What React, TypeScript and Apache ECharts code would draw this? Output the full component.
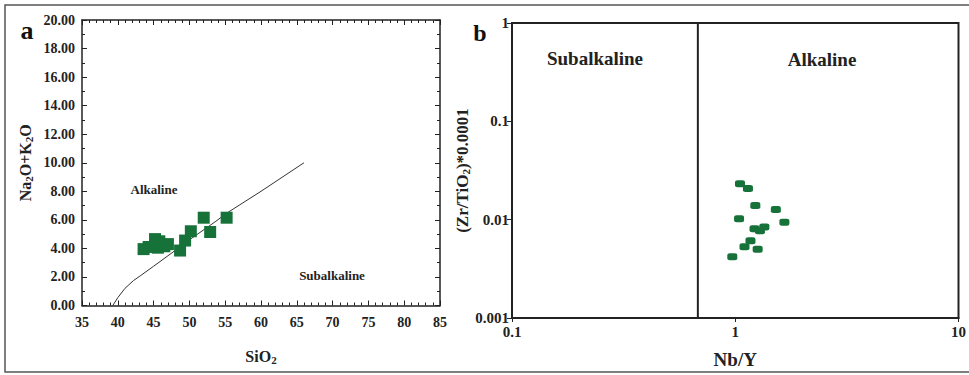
import React, { useEffect, useRef } from "react";
import * as echarts from "echarts";

// Panel a: TAS (SiO2 vs Na2O+K2O)
const sio2 = [43.6, 44.3, 45.2, 45.8, 45.6, 46.5, 47.0, 48.7, 49.4, 50.2, 52.0, 52.9, 55.2];
const alkali = [3.95, 4.1, 4.65, 4.5, 4.05, 4.15, 4.3, 3.85, 4.55, 5.2, 6.15, 5.15, 6.15];
const boundaryX = [39.3, 40.0, 41.0, 42.2, 43.2, 45.0, 48.0, 50.0, 53.7, 55.0, 60.0, 66.0];
const boundaryY = [0.0, 0.55, 1.2, 1.75, 2.1, 2.75, 3.85, 4.6, 5.9, 6.4, 8.0, 10.0];
const aXTicks = [35, 40, 45, 50, 55, 60, 65, 70, 75, 80, 85];

// Panel b: Nb/Y vs Zr/TiO2*0.0001
const nbY = [1.05, 1.14, 1.23, 1.52, 1.04, 1.66, 1.22, 1.29, 1.35, 1.17, 1.1, 1.26, 0.97];
const zrTi = [0.0232, 0.0207, 0.0139, 0.0127, 0.0102, 0.0094, 0.0081, 0.0077, 0.0084, 0.0061, 0.0053, 0.005, 0.0042];
const nbYBoundary = 0.68;

const SERIF = "'Liberation Serif', 'Times New Roman', serif";
const GREEN = "#17723a";
const AX = "#222";

const subRich = {
  s: { fontSize: 11, fontWeight: "bold", fontFamily: SERIF, color: AX, padding: [7, 0, 0, 0] },
};

function txt(text: string, x: number, y: number, size: number, fill = AX) {
  return {
    type: "text", x, y, silent: true,
    style: { text, fontFamily: SERIF, fontWeight: "bold", fontSize: size, fill, align: "center", verticalAlign: "middle" },
  };
}

export default function App() {
  const ref = useRef<HTMLDivElement>(null);
  useEffect(() => {
    if (!ref.current) return;
    const chart = echarts.init(ref.current, null, { renderer: "svg" });
    const tickLbl = { fontFamily: SERIF, fontWeight: "bold", color: AX };
    const option: any = {
      animation: false,
      backgroundColor: "#fff",
      textStyle: { fontFamily: SERIF },
      grid: [
        { left: 82, top: 20, width: 358, height: 285.5, show: false },
        { left: 512, top: 23, width: 447, height: 295, show: true, borderColor: AX, borderWidth: 2, backgroundColor: "transparent" },
      ],
      xAxis: [
        {
          gridIndex: 0, type: "value", min: 35, max: 85, interval: 5, position: "bottom",
          name: "SiO{s|2}", nameLocation: "middle", nameGap: 42,
          nameTextStyle: { fontFamily: SERIF, fontWeight: "bold", fontSize: 16, color: AX, rich: subRich },
          axisLine: { show: true, onZero: false, lineStyle: { color: AX, width: 1.5 } },
          axisTick: { show: true, inside: true, length: 5, lineStyle: { color: AX } },
          minorTick: { show: true, splitNumber: 5, length: 3, lineStyle: { color: AX } },
          splitLine: { show: false },
          axisLabel: { ...tickLbl, fontSize: 14, margin: 10, formatter: (v: number) => (aXTicks.includes(v) ? String(v) : "") },
        },
        {
          gridIndex: 0, type: "value", min: 35, max: 85, interval: 5, position: "top",
          axisLine: { show: true, onZero: false, lineStyle: { color: AX, width: 1.5 } },
          axisTick: { show: true, inside: true, length: 5, lineStyle: { color: AX } },
          minorTick: { show: true, splitNumber: 5, length: 3, lineStyle: { color: AX } },
          splitLine: { show: false }, axisLabel: { show: false },
        },
        {
          gridIndex: 1, type: "log", logBase: 10, min: 0.1, max: 10,
          name: "Nb/Y", nameLocation: "middle", nameGap: 32,
          nameTextStyle: { fontFamily: SERIF, fontWeight: "bold", fontSize: 19, color: AX },
          axisLine: { show: true, onZero: false, lineStyle: { color: AX, width: 2 } },
          axisTick: { show: true, length: 4, lineStyle: { color: AX } },
          minorTick: { show: false }, splitLine: { show: false },
          axisLabel: { ...tickLbl, fontSize: 15, margin: 6, formatter: (v: number) => String(+v.toPrecision(3)) },
        },
      ],
      yAxis: [
        {
          gridIndex: 0, type: "value", min: 0, max: 20, interval: 2, position: "left",
          name: "Na{s|2}O+K{s|2}O", nameLocation: "middle", nameGap: 48, nameRotate: 90,
          nameTextStyle: { fontFamily: SERIF, fontWeight: "bold", fontSize: 16, color: AX, rich: subRich },
          axisLine: { show: true, onZero: false, lineStyle: { color: AX, width: 1.5 } },
          axisTick: { show: true, inside: true, length: 5, lineStyle: { color: AX } },
          minorTick: { show: true, splitNumber: 2, length: 3, lineStyle: { color: AX } },
          splitLine: { show: false },
          axisLabel: { ...tickLbl, fontSize: 14, margin: 7, formatter: (v: number) => v.toFixed(2) },
        },
        {
          gridIndex: 0, type: "value", min: 0, max: 20, interval: 2, position: "right",
          axisLine: { show: true, onZero: false, lineStyle: { color: AX, width: 1.5 } },
          axisTick: { show: true, inside: true, length: 5, lineStyle: { color: AX } },
          minorTick: { show: true, splitNumber: 2, length: 3, lineStyle: { color: AX } },
          splitLine: { show: false }, axisLabel: { show: false },
        },
        {
          gridIndex: 1, type: "log", logBase: 10, min: 0.001, max: 1,
          name: "(Zr/TiO{s|2})*0.0001", nameLocation: "middle", nameGap: 33, nameRotate: 90,
          nameTextStyle: { fontFamily: SERIF, fontWeight: "bold", fontSize: 17, color: AX, rich: subRich },
          axisLine: { show: true, onZero: false, lineStyle: { color: AX, width: 2 } },
          axisTick: { show: true, length: 5, lineStyle: { color: AX } },
          minorTick: { show: false }, splitLine: { show: false },
          axisLabel: { ...tickLbl, fontSize: 15, margin: 3, formatter: (v: number) => String(+v.toPrecision(3)) },
        },
      ],
      series: [
        {
          type: "line", xAxisIndex: 0, yAxisIndex: 0, showSymbol: false, symbol: "none",
          lineStyle: { color: "#333", width: 1 },
          data: boundaryX.map((x, i) => [x, boundaryY[i]]),
          z: 2,
        },
        {
          type: "scatter", xAxisIndex: 0, yAxisIndex: 0, symbol: "rect", symbolSize: 12,
          itemStyle: { color: GREEN, opacity: 1 },
          data: sio2.map((x, i) => [x, alkali[i]]),
          z: 3,
        },
        {
          type: "line", xAxisIndex: 2, yAxisIndex: 2, showSymbol: false, symbol: "none",
          lineStyle: { color: AX, width: 2 },
          data: [[nbYBoundary, 0.001], [nbYBoundary, 1]],
        },
        {
          type: "scatter", xAxisIndex: 2, yAxisIndex: 2, symbol: "roundRect", symbolSize: [10, 7],
          itemStyle: { color: GREEN, opacity: 1 },
          data: nbY.map((x, i) => [x, zrTi[i]]),
        },
      ],
      graphic: [
        { type: "rect", shape: { x: 5, y: 5, width: 980, height: 367 }, style: { fill: "none", stroke: "#555", lineWidth: 1.5 }, silent: true },
        txt("a", 27, 30, 26, "#111"),
        txt("b", 480, 33, 24, "#111"),
        txt("Alkaline", 154, 189, 13),
        txt("Subalkaline", 332, 275, 13),
        txt("Subalkaline", 595, 58, 19),
        txt("Alkaline", 822, 59, 19),
      ],
    };
    chart.setOption(option);
    return () => chart.dispose();
  }, []);
  return <div ref={ref} style={{ position: "absolute", left: 0, top: 0, width: 969, height: 375 }} />;
}
